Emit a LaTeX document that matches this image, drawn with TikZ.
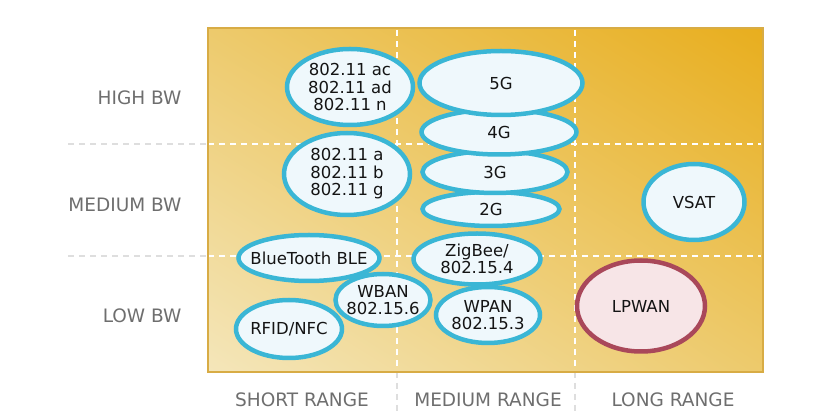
\documentclass[tikz,border=0pt]{standalone}
\usepackage{fontspec}
\setmainfont{DejaVu Sans}
\usetikzlibrary{shapes.geometric,shadings}
\definecolor{techblue}{HTML}{3AB6D5}
\definecolor{techfill}{HTML}{EFF8FC}
\definecolor{lpwred}{HTML}{A9485A}
\definecolor{lpwfill}{HTML}{F7E5E7}
\definecolor{goldedge}{HTML}{D8AC45}
\definecolor{goldlight}{HTML}{F4E6BA}
\definecolor{goldmid}{HTML}{EDCA6C}
\definecolor{golddark}{HTML}{E8AE1E}
\definecolor{axisgray}{HTML}{6E6E6E}
\definecolor{gridgray}{HTML}{DEDEDE}

\begin{document}
\begin{tikzpicture}[x=1pt,y=-1pt,
	every node/.style={font=\fontsize{16.5}{17.5}\selectfont},
	tech/.style={ellipse,draw=techblue,fill=techfill,line width=4.5pt,inner sep=-20pt,align=center,text=black!92},
	axislabel/.style={text=axisgray,font=\fontsize{18.5}{20}\selectfont},
	griddash/.style={dash pattern=on 6pt off 5pt,line width=1.5pt}]
	\useasboundingbox (0,0) rectangle (817,419);
	\draw[griddash,gridgray] (68,144) -- (208,144);
	\draw[griddash,gridgray] (68,256) -- (208,256);
	\draw[griddash,gridgray] (397,372) -- (397,412);
	\draw[griddash,gridgray] (575,372) -- (575,412);
	\shade[upper left=goldmid, upper right=golddark, lower left=goldlight, lower right=goldmid] (208,28) rectangle (763,372);
	\draw[griddash,white] (397,30) -- (397,372);
	\draw[griddash,white] (575,30) -- (575,372);
	\draw[griddash,white] (208,144) -- (761,144);
	\draw[griddash,white] (208,256) -- (761,256);
	\draw[goldedge,line width=2pt] (208,28) rectangle (763,372);
	
	\node[axislabel,anchor=east] (high) at (185,98) {HIGH BW};
	\node[axislabel,anchor=east] (medium) at (185,205) {MEDIUM BW};
	\node[axislabel,anchor=east] (low) at (185,316) {LOW BW};
	\node[axislabel] (short) at (302,400) {SHORT RANGE};
	\node[axislabel] (mid) at (488,400) {MEDIUM RANGE};
	\node[axislabel] (long) at (673,400) {LONG RANGE};
	
	\node[tech,minimum width=126,minimum height=76] (wifiac) at (350,87) {802.11 ac\\802.11 ad\\802.11 n};
	\node[tech,minimum width=126,minimum height=82] (wifia) at (347,174) {802.11 a\\802.11 b\\802.11 g};
	\node[tech,minimum width=137,minimum height=34] (twoG) at (491,209) {2G};
	\node[tech,minimum width=145,minimum height=42] (threeG) at (495,172) {3G};
	\node[tech,minimum width=155,minimum height=45] (fourG) at (499,132) {4G};
	\node[tech,minimum width=163,minimum height=64] (fiveG) at (501,83) {5G};
	\node[tech,minimum width=141,minimum height=46] (ble) at (309,258) {BlueTooth BLE};
	\node[tech,minimum width=95,minimum height=52] (wban) at (383,300) {WBAN\\802.15.6};
	\node[tech,minimum width=106,minimum height=58] (rfid) at (289,329) {RFID/NFC};
	\node[tech,minimum width=127,minimum height=51] (zigbee) at (477,259) {ZigBee/\\802.15.4};
	\node[tech,minimum width=104,minimum height=56] (wpan) at (488,315) {WPAN\\802.15.3};
	\node[tech,minimum width=101,minimum height=76] (vsat) at (694,202) {VSAT};
	\node[tech,draw=lpwred,fill=lpwfill,minimum width=128,minimum height=91] (lpwan) at (641,306) {LPWAN};
	
\end{tikzpicture}
\end{document}
